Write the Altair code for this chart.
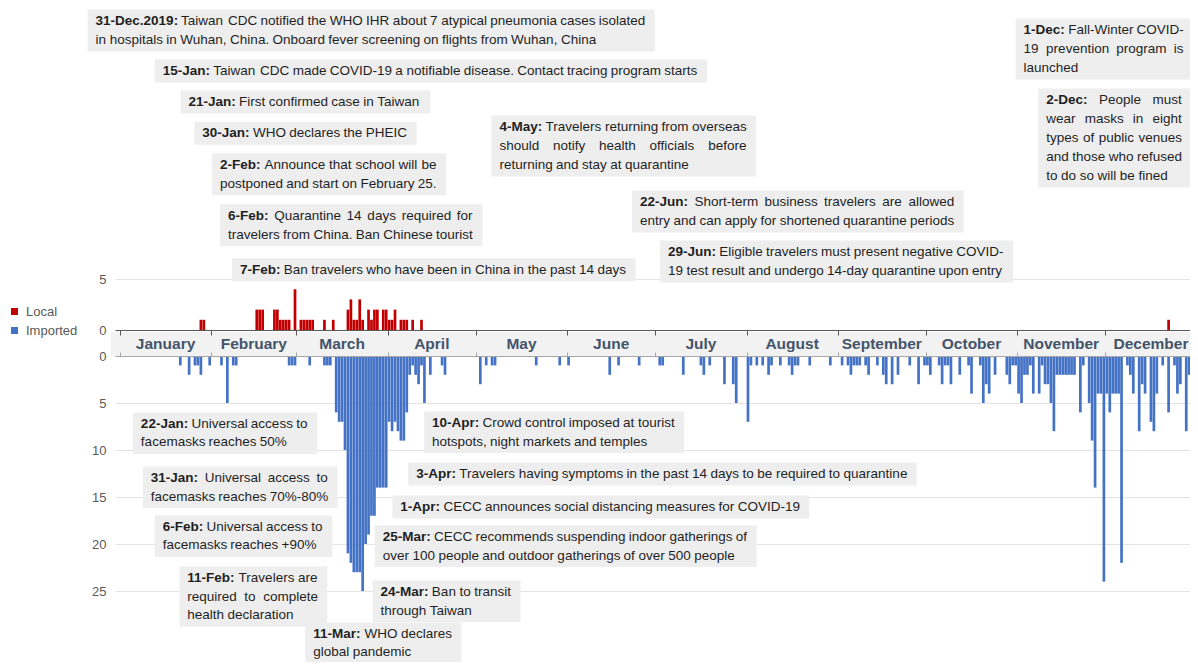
import altair as alt
import pandas as pd

YEAR = 2020

# ---------------- data ----------------
local_dates = [
    "01-28", "01-29", "02-16", "02-17", "02-18", "02-22", "02-23", "02-24", "02-25", "02-26", "02-27", "02-29",
    "03-02", "03-03", "03-04", "03-05", "03-06", "03-10", "03-13", "03-18", "03-19", "03-20", "03-21", "03-22", "03-23",
    "03-25", "03-26", "03-27", "03-28", "03-30", "03-31", "04-01", "04-02", "04-03", "04-05", "04-06", "04-07", "04-09", "04-12", "12-22",
]
local_counts = [
    1, 1, 2, 2, 2, 2, 2, 1, 1, 1, 1, 4,
    1, 1, 1, 1, 1, 1, 1, 2, 3, 1, 1, 3, 1,
    2, 1, 2, 2, 2, 2, 1, 1, 2, 1, 1, 1, 1, 1, 1,
]

imported_dates = [
    "01-21", "01-24", "01-26", "01-27", "01-28", "01-31",
    "02-04", "02-06", "02-08", "02-09", "02-27", "02-28", "02-29",
    "03-05", "03-10", "03-11", "03-12", "03-14", "03-15", "03-16", "03-17", "03-18", "03-19", "03-20", "03-21", "03-22",
    "03-23", "03-24", "03-25", "03-26", "03-27", "03-28", "03-29", "03-30", "03-31",
    "04-01", "04-02", "04-03", "04-04", "04-05", "04-06", "04-07", "04-08", "04-09", "04-10", "04-11", "04-12", "04-13", "04-15", "04-19", "04-20",
    "05-02", "05-04", "05-06", "05-07", "05-21", "05-29",
    "06-01", "06-15", "06-18", "06-25",
    "07-02", "07-03", "07-10", "07-16", "07-17", "07-19", "07-24", "07-27", "07-28",
    "08-01", "08-02", "08-04", "08-06", "08-08", "08-09", "08-12", "08-15", "08-16", "08-17", "08-18", "08-22", "08-29",
    "09-02", "09-04", "09-05", "09-06", "09-07", "09-08", "09-10", "09-11", "09-14", "09-16", "09-17", "09-19", "09-21", "09-25", "09-28", "09-30",
    "10-01", "10-02", "10-05", "10-06", "10-07", "10-08", "10-09", "10-12", "10-15", "10-16", "10-19", "10-20", "10-21", "10-22", "10-24", "10-28", "10-29", "10-30", "10-31",
    "11-01", "11-02", "11-03", "11-04", "11-05", "11-06", "11-08", "11-09", "11-10", "11-11", "11-12", "11-13", "11-14", "11-15",
    "11-16", "11-17", "11-18", "11-19", "11-20", "11-22", "11-23", "11-25", "11-26", "11-27", "11-28", "11-29", "11-30",
    "12-01", "12-02", "12-03", "12-04", "12-05", "12-06", "12-08", "12-09", "12-10", "12-12", "12-13", "12-14",
    "12-16", "12-17", "12-18", "12-20", "12-22", "12-24", "12-25", "12-26", "12-28", "12-29", "12-30",
]
imported_counts = [
    1, 2, 1, 1, 2, 1,
    1, 5, 1, 1, 1, 1, 1,
    1, 1, 1, 1, 6, 7, 7, 10, 21, 22, 23, 23, 23,
    25, 20, 19, 17, 17, 14, 14, 14, 14,
    7, 8, 7, 8, 9, 9, 6, 2, 1, 2, 3, 1, 5, 2, 1, 2,
    3, 1, 1, 1, 1, 1,
    1, 2, 1, 1,
    1, 1, 2, 1, 2, 1, 3, 3, 5,
    7, 1, 1, 1, 2, 1, 1, 1, 2, 1, 1, 1, 1,
    1, 1, 2, 1, 1, 1, 1, 2, 1, 2, 3, 3, 2, 1, 3, 1,
    1, 2, 1, 3, 1, 1, 3, 2, 1, 4, 1, 5, 3, 4, 2, 2, 3, 1, 1,
    4, 5, 2, 2, 1, 4, 4, 1, 3, 3, 5, 8, 2, 2,
    2, 2, 2, 2, 2, 6, 1, 5, 9, 14, 4, 4, 24,
    4, 6, 4, 4, 4, 22, 1, 2, 4, 8, 3, 4,
    7, 8, 4, 1, 6, 1, 4, 3, 8, 2, 2,
]
assert len(local_dates) == len(local_counts)
assert len(imported_dates) == len(imported_counts)

month_names = ["January", "February", "March", "April", "May", "June", "July",
               "August", "September", "October", "November", "December"]
y_ticks_local = [0, 5]
y_ticks_imported = [0, 5, 10, 15, 20, 25]
series_names = ["Local", "Imported"]
series_colors = ["#c00000", "#4472c4"]

# annotations: (box left edge in days after 1 Jan, level of first text line in cases,
#               bold prefix, text lines, clipped at the plot edge)
top_notes = [
    (-11.0, 30.3, "31-Dec.2019:", ["Taiwan CDC notified the WHO IHR about 7 atypical pneumonia cases isolated",
                                   "in hospitals in Wuhan, China. Onboard fever screening on flights from Wuhan, China"], False),
    (11.8, 25.4, "15-Jan:", ["Taiwan CDC made COVID-19 a notifiable disease. Contact tracing program starts"], False),
    (20.6, 22.35, "21-Jan:", ["First confirmed case in Taiwan"], False),
    (25.3, 19.3, "30-Jan:", ["WHO declares the PHEIC"], False),
    (31.3, 16.2, "2-Feb:", ["Announce that school will be", "postponed and start on February 25."], False),
    (34.0, 11.2, "6-Feb:", ["Quarantine 14 days required for", "travelers from China. Ban Chinese tourist"], False),
    (38.1, 5.9, "7-Feb:", ["Ban travelers who have been in China in the past 14 days"], False),
    (126.3, 19.9, "4-May:", ["Travelers returning from overseas", "should notify health officials before",
                             "returning and stay at quarantine"], False),
    (174.1, 12.55, "22-Jun:", ["Short-term business travelers are allowed",
                               "entry and can apply for shortened quarantine periods"], False),
    (183.6, 7.65, "29-Jun:", ["Eligible travelers must present negative COVID-",
                              "19 test result and undergo 14-day quarantine upon entry"], False),
    (304.5, 29.4, "1-Dec:", ["Fall-Winter COVID-", "19 prevention program is", "launched"], True),
    (312.2, 22.55, "2-Dec:", ["People must", "wear masks in eight", "types of public venues",
                              "and those who refused", "to do so will be fined"], True),
]
bottom_notes = [
    (4.4, 7.23, "22-Jan:", ["Universal access to", "facemasks reaches 50%"], True),
    (7.75, 12.98, "31-Jan:", ["Universal access to", "facemasks reaches 70%-80%"], True),
    (11.8, 18.19, "6-Feb:", ["Universal access to", "facemasks reaches +90%"], True),
    (20.2, 23.62, "11-Feb:", ["Travelers are", "required to complete", "health declaration"], True),
    (63.0, 29.57, "11-Mar:", ["WHO declares", "global pandemic"], True),
    (85.9, 25.11, "24-Mar:", ["Ban to transit", "through Taiwan"], True),
    (86.6, 19.26, "25-Mar:", ["CECC recommends suspending indoor gatherings of",
                              "over 100 people and outdoor gatherings of over 500 people"], True),
    (92.6, 16.06, "1-Apr:", ["CECC announces social distancing measures for COVID-19"], True),
    (98.0, 12.55, "3-Apr:", ["Travelers having symptoms in the past 14 days to be required to quarantine"], True),
    (103.4, 7.13, "10-Apr:", ["Crowd control imposed at tourist", "hotspots, night markets and temples"], True),
]

# ---------------- layout / style ----------------
W, H1, H2, GAP = 1075, 322, 306, 26
PX_DAY = 2.969
PX1, PX2 = 10.2, 9.4
D1, D2 = H1 / PX1, H2 / PX2
FONT = "Liberation Sans"
FS = 13.5
BOX = "#eeeeee"
TXT = "#1f1f1f"
JAN1 = pd.Timestamp(f"{YEAR}-01-01")

NORMAL = {' ': 278, '!': 278, '%': 889, '+': 584, ',': 278, '-': 333, '.': 278, '/': 278, ':': 278,
          'A': 667, 'B': 667, 'C': 722, 'D': 722, 'E': 667, 'F': 611, 'G': 778, 'H': 722, 'I': 278, 'J': 500,
          'K': 667, 'L': 556, 'M': 833, 'N': 722, 'O': 778, 'P': 667, 'Q': 778, 'R': 722, 'S': 667, 'T': 611,
          'U': 722, 'V': 667, 'W': 944, 'X': 667, 'Y': 667, 'Z': 611,
          'a': 556, 'b': 556, 'c': 500, 'd': 556, 'e': 556, 'f': 278, 'g': 556, 'h': 556, 'i': 222, 'j': 222,
          'k': 500, 'l': 222, 'm': 833, 'n': 556, 'o': 556, 'p': 556, 'q': 556, 'r': 333, 's': 500, 't': 278,
          'u': 556, 'v': 500, 'w': 722, 'x': 500, 'y': 500, 'z': 500}
BOLD = {' ': 278, '-': 333, '.': 278, ':': 333, 'A': 722, 'D': 722, 'F': 611, 'J': 556, 'M': 833,
        'a': 556, 'b': 611, 'c': 556, 'e': 556, 'n': 611, 'p': 611, 'r': 389, 'u': 611, 'y': 556}


def tw(s, bold=False):
    tab = BOLD if bold else NORMAL
    return sum(tab.get(ch, 556) for ch in s) * FS / 1000.0


def ts(days):
    return (JAN1 + pd.Timedelta(days=days)).strftime("%Y-%m-%dT%H:%M:%S")


end = JAN1 + pd.Timedelta(days=W / PX_DAY)
xscale = alt.Scale(domain=[alt.DateTime(year=YEAR, month=1, date=1),
                           alt.DateTime(year=end.year, month=end.month, date=end.day,
                                        hours=end.hour, minutes=end.minute)])
month_starts = [alt.DateTime(year=YEAR, month=m, date=1) for m in range(1, 13)]
yscale1 = alt.Scale(domain=[0, D1])
yscale2 = alt.Scale(domain=[0, D2], reverse=True)
color_scale = alt.Scale(domain=series_names, range=series_colors)
legend = alt.Legend(title=None, orient="none", legendX=-107, legendY=297, symbolType="square",
                    symbolSize=49, symbolStrokeWidth=0, labelFont=FONT, labelFontSize=13,
                    labelColor="#595959", rowPadding=5, labelOffset=5, padding=0)

xaxis_top = alt.Axis(orient="bottom", values=month_starts, labels=False, ticks=True, tickSize=5,
                     tickColor="#595959", domainColor="#595959", grid=False, title=None, zindex=1)
xaxis_bottom = alt.Axis(orient="top", values=month_starts, labels=False, ticks=True, tickSize=4,
                        tickColor="#a6a6a6", domainColor="#a6a6a6", grid=False, title=None, zindex=1)


def yaxis(vals):
    return alt.Axis(values=vals, grid=True, gridColor="#e3e3e3", domain=False, ticks=False,
                    labelFont=FONT, labelFontSize=13, labelColor="#595959", labelPadding=9,
                    title=None, zindex=0)


yaxis_top = yaxis(y_ticks_local)
yaxis_bottom = yaxis(y_ticks_imported)


def build_notes(notes, px_unit, line_px, direction):
    """Boxes plus word-by-word text (lines justified like the original text boxes)."""
    boxes, words = [], []
    space = tw(" ")
    for left, level, prefix, lines, clip in notes:
        tx = left + 8 / PX_DAY
        toks = []
        for i, line in enumerate(lines):
            ws = [(w, False) for w in line.split(" ")]
            if i == 0:
                ws = [(prefix, True)] + ws
            toks.append(ws)
        nat = [sum(tw(w, b) for w, b in ws) + space * (len(ws) - 1) for ws in toks]
        col = max(nat)
        ys = [level + direction * i * line_px / px_unit for i in range(len(lines))]
        for i, ws in enumerate(toks):
            wsum = sum(tw(w, b) for w, b in ws)
            last = i == len(toks) - 1
            gap = space if (last or len(ws) < 2) else (col - wsum) / (len(ws) - 1)
            x = 0.0
            for w, b in ws:
                words.append(dict(x=ts(tx + x / PX_DAY), y=ys[i], t=w, bold=b, clip=clip))
                x += tw(w, b) + gap
        right = tx + (col + 10) / PX_DAY
        pad = 11.5 / px_unit
        boxes.append(dict(x0=ts(left), x1=ts(right), y0=ys[0] - direction * pad,
                          y1=ys[-1] + direction * pad, clip=clip))
    return pd.DataFrame(boxes), pd.DataFrame(words)


def note_layers(notes, px_unit, line_px, direction, yscale, xaxis, yax):
    b, wd = build_notes(notes, px_unit, line_px, direction)
    box_layers, text_layers = [], []
    for clip in (False, True):
        bb = b[b["clip"] == clip].drop(columns="clip")
        if len(bb) == 0:
            continue
        box_layers.append(
            alt.Chart(bb).mark_rect(color=BOX, clip=clip).encode(
                x=alt.X("x0:T", scale=xscale, axis=xaxis), x2="x1:T",
                y=alt.Y("y0:Q", scale=yscale, axis=yax), y2="y1:Q"))
        for bold in (True, False):
            d = wd[(wd["clip"] == clip) & (wd["bold"] == bold)].drop(columns=["clip", "bold"])
            text_layers.append(
                alt.Chart(d).mark_text(align="left", baseline="middle", font=FONT, fontSize=FS,
                                       fontWeight="bold" if bold else "normal", color=TXT,
                                       clip=clip).encode(
                    x=alt.X("x:T", scale=xscale, axis=xaxis),
                    y=alt.Y("y:Q", scale=yscale, axis=yax),
                    text="t:N"))
    return box_layers, text_layers


local_df = pd.DataFrame({"date": [f"{YEAR}-{d}T12:00:00" for d in local_dates],
                         "count": local_counts, "type": series_names[0]})
imported_df = pd.DataFrame({"date": [f"{YEAR}-{d}T12:00:00" for d in imported_dates],
                            "count": imported_counts, "type": series_names[1]})

mids = []
for m in range(1, 13):
    s = pd.Timestamp(YEAR, m, 1)
    e = s + pd.offsets.MonthBegin(1)
    mids.append((s + (e - s) / 2).strftime("%Y-%m-%dT%H:%M:%S"))
months_df = pd.DataFrame({"mid": mids, "name": month_names})

no_border = alt.ViewBackground(stroke="transparent", strokeWidth=0)

# ---------------- top panel: local cases ----------------
bars_top = alt.Chart(local_df).mark_bar(width=2.7, clip=True).encode(
    x=alt.X("date:T", scale=xscale, axis=xaxis_top),
    y=alt.Y("count:Q", scale=yscale1, axis=yaxis_top),
    color=alt.Color("type:N", scale=color_scale, legend=legend))

band = alt.Chart(pd.DataFrame({"k": [0]})).mark_rect(color="#f2f2f2").encode(
    x=alt.value(-4), x2=alt.value(W), y=alt.value(H1 + 2), y2=alt.value(H1 + 26))

month_text = alt.Chart(months_df).mark_text(font=FONT, fontSize=15.5, fontWeight="bold",
                                            color="#44546a", baseline="middle").encode(
    x=alt.X("mid:T", scale=xscale, axis=xaxis_top), y=alt.value(H1 + 14), text="name:N")

tb, tt = note_layers(top_notes, PX1, 19.0, -1, yscale1, xaxis_top, yaxis_top)
top = alt.layer(bars_top, band, *tb, *tt, month_text).properties(width=W, height=H1, view=no_border)

# ---------------- bottom panel: imported cases ----------------
bars_bottom = alt.Chart(imported_df).mark_bar(width=2.7, clip=True).encode(
    x=alt.X("date:T", scale=xscale, axis=xaxis_bottom),
    y=alt.Y("count:Q", scale=yscale2, axis=yaxis_bottom),
    color=alt.Color("type:N", scale=color_scale, legend=legend))

bb_, bt_ = note_layers(bottom_notes, PX2, 18.5, 1, yscale2, xaxis_bottom, yaxis_bottom)
bottom = alt.layer(bars_bottom, *bb_, *bt_).properties(width=W, height=H2, view=no_border)

chart = alt.vconcat(top, bottom, spacing=GAP, bounds="flush").properties(
    padding={"left": 0, "top": 0, "right": 0, "bottom": 0}
).configure_view(stroke="transparent", strokeWidth=0).configure(font=FONT)

chart.save("out.html", embed_options={"renderer": "svg", "actions": False})
